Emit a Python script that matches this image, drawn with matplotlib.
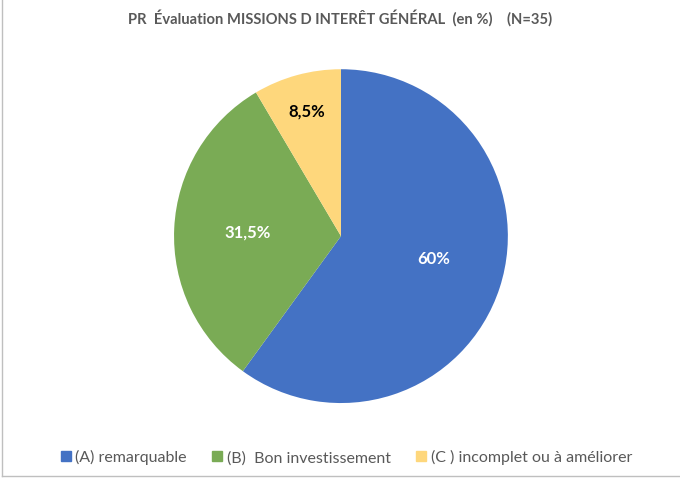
import numpy as np
from matplotlib import pyplot as plt
from matplotlib.lines import Line2D

# Données
categories = ['(A) remarquable', '(B)  Bon investissement', '(C ) incomplet ou à améliorer']
valeurs = [60, 31.5, 8.5]
etiquettes = ['60%', '31,5%', '8,5%']
couleurs = ['#4472C4', '#7AAB55', '#FED77C']
couleurs_txt = ['white', 'white', 'black']
distances = [0.57, 0.56, 0.78]

plt.rcParams['font.family'] = ['Lato', 'DejaVu Sans']

fig = plt.figure(figsize=(6.8, 4.81), dpi=100)
ax = fig.add_axes([0.2559, 0.160, 0.491, 0.694])

wedges, _ = ax.pie(valeurs, colors=couleurs, startangle=90, counterclock=False,
                   wedgeprops={'linewidth': 0})
ax.set_xlim(-1, 1)
ax.set_ylim(-1, 1)
ax.set_aspect('equal')

for w, lab, c, d in zip(wedges, etiquettes, couleurs_txt, distances):
    ang = np.deg2rad((w.theta1 + w.theta2) / 2) + (0.08 if lab == '60%' else 0)
    ax.text(d * np.cos(ang), d * np.sin(ang), lab, ha='center', va='center',
            color=c, fontsize=12, fontweight='bold')

fig.text(0.50, 0.962, 'PR  Évaluation MISSIONS D INTERÊT GÉNÉRAL  (en %)    (N=35)',
         ha='center', va='center', fontsize=10.6, fontweight='bold', color='#595959')

handles = [Line2D([0], [0], marker='s', linestyle='', markersize=7.5,
                  markerfacecolor=c, markeredgecolor=c) for c in couleurs]
fig.legend(handles, categories, loc='center', bbox_to_anchor=(0.507, 0.048), ncol=3,
           frameon=False, fontsize=11.5, labelcolor='#595959', handletextpad=0.1,
           columnspacing=1.4, handlelength=1.0)

# bordure du cadre
fig.add_artist(Line2D([0.003, 0.003], [0.008, 1], color='#BFBFBF', lw=1))
fig.add_artist(Line2D([0.003, 1], [0.008, 0.008], color='#BFBFBF', lw=1))

fig.savefig('out.png', dpi=100)
